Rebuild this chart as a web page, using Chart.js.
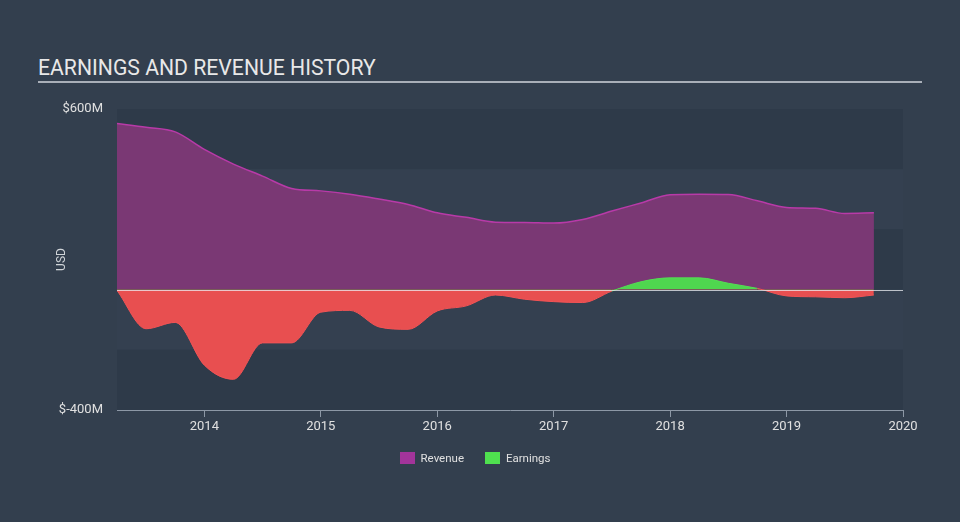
<!DOCTYPE html>
<html>
<head>
<meta charset="utf-8">
<script src="https://cdn.jsdelivr.net/npm/chart.js@4/dist/chart.umd.min.js"></script>
<style>
  html, body { margin: 0; padding: 0; }
  body {
    width: 960px; height: 522px; overflow: hidden; position: relative;
    background: #333f4e; font-family: Roboto, "Open Sans", sans-serif;
  }
  #title {
    position: absolute; left: 38px; top: 55px; width: 884px;
    color: #e8e8e8; font-size: 21.2px; line-height: 26px;
    border-bottom: 2px solid #a9afb8; padding-bottom: 0px;
  }
  #wrap { position: absolute; left: 0; top: 0; width: 960px; height: 522px; }
  #legend {
    position: absolute; top: 451px; left: -5px; width: 960px; text-align: center;
    color: #e0e0e0; font-size: 11.5px;
  }
  #legend span.item { display: inline-block; margin: 0 9px; }
  #legend span.box { display: inline-block; width: 15px; height: 12px; vertical-align: -2px; margin-right: 6px; }
</style>
</head>
<body>
<div id="title">EARNINGS AND REVENUE HISTORY</div>
<div id="wrap"><canvas id="chart" width="960" height="522"></canvas></div>
<div id="legend">
  <span class="item"><span class="box" style="background:#a3349a"></span>Revenue</span>
  <span class="item"><span class="box" style="background:#4fe04f"></span>Earnings</span>
</div>
<script>
// Quarter ends as decimal years (Mar 2013 .. Sep 2019)
const periods = [
  2013.25, 2013.5, 2013.75, 2014.0, 2014.25, 2014.5, 2014.75,
  2015.0, 2015.25, 2015.5, 2015.75, 2016.0, 2016.25, 2016.5, 2016.75,
  2017.0, 2017.25, 2017.5, 2017.75, 2018.0, 2018.25, 2018.5, 2018.75,
  2019.0, 2019.25, 2019.5, 2019.75
];

// USD millions
const revenue = [
  552, 539, 524, 466, 417, 377, 336,
  328, 317, 301, 283, 255, 240, 224, 223,
  221, 233, 261, 288, 315, 317, 316, 295,
  273, 270, 253, 255
];

const earnings = [
  -3, -130, -109, -251, -298, -177, -177,
  -75, -69, -124, -132, -71, -54, -18, -32,
  -40, -43, -5, 26, 39, 39, 21, 4,
  -21, -24, -27, -18
];

const yearTicks = [2014, 2015, 2016, 2017, 2018, 2019, 2020];

const toPoints = (vals) => vals.map((v, i) => ({ x: periods[i], y: v }));

// Background bands + zero line
const bandsPlugin = {
  id: "bands",
  beforeDatasetsDraw(chart) {
    const { ctx, chartArea, scales } = chart;
    const y = scales.y;
    ctx.save();
    for (let v = 600; v > -400; v -= 200) {
      const top = y.getPixelForValue(v);
      const bottom = y.getPixelForValue(v - 200);
      const dark = ((600 - v) / 200) % 2 === 0;
      ctx.fillStyle = dark ? "#2e3a49" : "#344050";
      ctx.fillRect(chartArea.left, top, chartArea.right - chartArea.left, bottom - top);
    }
    ctx.restore();
  },
  afterDatasetsDraw(chart) {
    const { ctx, chartArea, scales } = chart;
    const zero = Math.round(scales.y.getPixelForValue(0)) + 0.5;
    ctx.save();
    ctx.strokeStyle = "rgba(235,238,242,0.75)";
    ctx.lineWidth = 1;
    ctx.beginPath();
    ctx.moveTo(chartArea.left, zero);
    ctx.lineTo(chartArea.right, zero);
    ctx.stroke();
    ctx.restore();
  }
};

new Chart(document.getElementById("chart"), {
  type: "line",
  data: {
    datasets: [
      // earnings first so it is painted over the revenue area
      {
        label: "Earnings",
        data: toPoints(earnings),
        borderColor: "#f25355",
        borderWidth: 1,
        segment: {
          borderColor: (c) => (c.p0.parsed.y + c.p1.parsed.y > 0) ? "#55dd55" : "#f25355"
        },
        fill: { target: "origin", above: "#4fd64f", below: "#e84f50" },
        pointRadius: 0,
        cubicInterpolationMode: "monotone"
      },
      {
        label: "Revenue",
        data: toPoints(revenue),
        borderColor: "#b83aa8",
        borderWidth: 1.5,
        backgroundColor: "#7a3874",
        fill: "origin",
        pointRadius: 0,
        cubicInterpolationMode: "monotone"
      }
    ]
  },
  options: {
    responsive: false,
    animation: false,
    layout: { padding: { left: 0, right: 57, top: 109, bottom: 82 } },
    plugins: { legend: { display: false }, tooltip: { enabled: false } },
    scales: {
      x: {
        type: "linear",
        min: 2013.25,
        max: 2020,
        afterFit: (s) => { s.height = 30; },
        afterBuildTicks: (s) => { s.ticks = yearTicks.map(v => ({ value: v })); },
        ticks: {
          color: "#e0e0e0",
          font: { family: "Roboto", size: 13 },
          padding: 2,
          maxRotation: 0,
          callback: (v) => String(v)
        },
        grid: { drawOnChartArea: false, drawTicks: true, tickLength: 7, color: "#8d98a6" },
        border: { display: true, color: "#8d98a6", width: 1 }
      },
      y: {
        min: -400,
        max: 600,
        afterFit: (s) => { s.width = 117; },
        afterBuildTicks: (s) => { s.ticks = [{ value: -400 }, { value: 600 }]; },
        ticks: {
          color: "#e0e0e0",
          font: { family: "Roboto", size: 13 },
          padding: 6,
          callback: (v) => "$" + v + "M"
        },
        grid: { display: false },
        border: { display: false },
        title: {
          display: true,
          text: "USD",
          color: "#d0d4d8",
          font: { family: "Roboto", size: 12 },
          padding: { top: 55, bottom: 0 }
        }
      }
    }
  },
  plugins: [bandsPlugin]
});
</script>
</body>
</html>
